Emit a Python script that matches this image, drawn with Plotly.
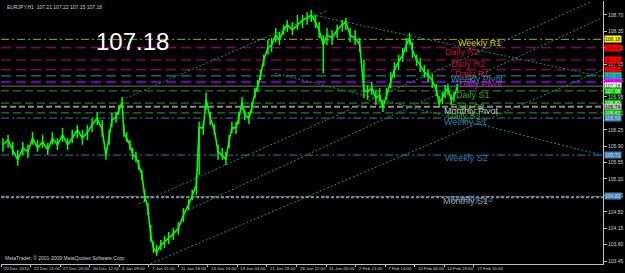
import plotly.graph_objects as go

# ---------------- data ----------------
bars = [0, 11, 21, 32, 43, 54, 64, 75, 86, 97, 107, 118, 129, 140, 150, 161, 172, 183, 193, 204,
        215, 223, 230, 236, 245, 251, 258, 262, 268, 275, 281, 288, 294, 301, 307, 314, 320, 326, 333,
        342, 350, 359, 369, 380, 391, 402, 410, 419, 425, 434, 440, 449, 458, 466, 475, 483, 490, 496,
        505, 511, 518, 524, 533, 539, 546, 552, 558, 565, 574, 582, 591, 599, 608, 616, 627, 638, 649,
        659, 668, 677, 685, 694, 702, 713, 724, 735, 743, 752, 763, 773, 782, 790, 799, 808, 816, 823,
        831, 840, 848, 857, 866, 874, 881, 887, 896, 904, 913, 921, 930, 939, 945, 952, 958, 964, 971,
        977, 984]
close = [105.93, 106.03, 105.82, 105.61, 105.86, 105.78, 106.07, 105.86, 105.99, 105.82, 106.07, 105.93,
         106.14, 105.93, 106.07, 106.25, 106.07, 106.20, 106.35, 106.50, 106.25, 105.71, 106.10, 106.46,
         106.52, 106.67, 106.84, 106.18, 106.07, 105.93, 105.71, 105.67, 105.50, 105.29, 104.84, 104.58,
         104.01, 103.73, 103.64, 103.79, 103.86, 103.94, 104.03, 104.15, 104.43, 104.65, 104.86, 105.07,
         106.29, 106.29, 106.89, 106.50, 106.25, 105.78, 105.71, 105.61, 106.03, 106.29, 106.29, 106.50,
         106.84, 106.57, 106.50, 106.72, 107.04, 107.18, 107.42, 107.74, 107.998, 108.06, 108.27, 108.17,
         108.38, 108.49, 108.38, 108.49, 108.59, 108.64, 108.70, 108.55, 108.38, 108.06, 108.27, 108.21,
         108.38, 108.49, 108.55, 108.27, 108.21, 108.06, 107.10, 107.06, 107.14, 106.93, 106.99, 106.72,
         106.99, 107.31, 107.53, 107.70, 107.85, 108.06, 108.21, 107.95, 107.74, 107.63, 107.48, 107.42,
         107.31, 107.10, 106.82, 106.93, 107.06, 107.14, 106.89, 106.95, 107.16]
high = [106.07, 106.14, 105.99, 105.82, 105.99, 105.93, 106.20, 106.03, 106.14, 105.97, 106.20, 106.07,
        106.29, 106.07, 106.25, 106.35, 106.25, 106.35, 106.50, 106.63, 106.46, 105.86, 106.25, 106.61,
        106.63, 106.78, 106.95, 106.35, 106.20, 106.03, 105.86, 105.78, 105.61, 105.39, 104.97, 104.69,
        104.22, 103.86, 103.79, 103.90, 103.98, 104.07, 104.15, 104.28, 104.58, 104.77, 104.97, 105.29,
        106.42, 106.42, 107.04, 106.63, 106.37, 105.93, 105.86, 105.78, 106.14, 106.42, 106.42, 106.63,
        106.95, 106.67, 106.63, 106.84, 107.14, 107.31, 107.53, 107.85, 108.17, 108.21, 108.42, 108.34,
        108.49, 108.59, 108.55, 108.70, 108.70, 108.76, 108.81, 108.70, 108.55, 108.27, 108.42, 108.38,
        108.49, 108.59, 108.64, 108.42, 108.38, 108.21, 107.74, 107.21, 107.27, 107.10, 107.14, 106.89,
        107.14, 107.48, 107.70, 107.85, 108.00, 108.21, 108.32, 108.12, 107.85, 107.78, 107.63, 107.53,
        107.44, 107.23, 106.97, 107.06, 107.21, 107.23, 107.00, 107.06, 107.23]
low = [105.78, 105.86, 105.71, 105.48, 105.71, 105.65, 105.93, 105.78, 105.86, 105.71, 105.93, 105.82,
       105.99, 105.82, 105.97, 106.07, 105.93, 106.03, 106.20, 106.35, 106.10, 105.61, 105.93, 106.31,
       106.40, 106.57, 106.72, 106.10, 105.99, 105.82, 105.61, 105.56, 105.39, 105.18, 104.71, 104.43,
       103.86, 103.62, 103.56, 103.68, 103.73, 103.81, 103.90, 104.01, 104.28, 104.54, 104.75, 104.86,
       105.29, 106.14, 106.67, 106.35, 106.14, 105.61, 105.61, 105.50, 105.86, 106.18, 106.16, 106.37,
       106.67, 106.46, 106.37, 106.61, 106.93, 107.06, 107.31, 107.61, 107.85, 107.91, 108.12, 108.06,
       108.27, 108.34, 108.27, 108.38, 108.42, 108.49, 108.55, 108.42, 108.21, 107.46, 108.06, 108.06,
       108.21, 108.34, 108.38, 108.12, 108.06, 107.91, 106.93, 106.89, 106.99, 106.78, 106.84, 106.63,
       106.89, 107.14, 107.36, 107.53, 107.70, 107.91, 108.06, 107.78, 107.61, 107.48, 107.36, 107.27,
       107.14, 106.97, 106.72, 106.80, 106.93, 106.99, 106.78, 106.84, 107.06]

# pivot levels (price) and names
level_names = ["Weekly R1", "Daily R3", "Daily R2", "Daily R1", "Weekly Pivot", "Daily Pivot",
               "Daily S1", "Daily S2", "Monthly Pivot", "Daily S3", "Weekly S1", "Weekly S2",
               "Weekly S3", "Monthly S1"]
level_prices = [108.18, 108.00, 107.74, 107.53, 107.40, 107.27, 107.08, 106.82, 106.74, 106.61,
                106.50, 105.71, 104.83, 104.81]
level_colors = ["#a8a800", "#c0007a", "#c0007a", "#c0007a", "#1aa0a8", "#7000b0", "#2e9a2e",
                "#2e9a2e", "#8c8c8c", "#2e9a2e", "#3f78a8", "#3f78a8", "#3f78a8", "#8c8c8c"]
level_text_colors = ["#d8d800", "#c8103c", "#c8103c", "#c8103c", "#2a90b0", "#c020c0", "#3ca03c",
                     "#3ca03c", "#c8c8c8", "#3ca03c", "#3a78b0", "#3a78b0", "#3a78b0", "#a0a0a0"]
level_dash = ["8px,3px,2px,3px", "10px,5px", "10px,5px", "10px,5px", "10px,5px", "10px,5px",
              "8px,4px", "8px,4px", "6px,3px", "8px,4px", "8px,3px,2px,3px", "8px,3px,2px,3px",
              "8px,3px,2px,3px", "3px,2px"]
level_width = [1, 1, 1, 1, 1, 2, 1, 1, 2, 1, 1, 1, 1, 2]
label_bars = [1033, 995, 1007, 1016, 1027, 1035, 1018, 1007, 1014, 999, 1001, 1005, 1014, 1001]
label_offsets = [-4, -4, -4, -4, -3, -2, -4, -4, -4, -3, -4, -3, -3, -4]

current_price = 107.18

# trend / channel lines (bar, price endpoints)
trend_lines = [
    ([258, 702], [106.89, 108.79]),
    ([294, 1274], [104.67, 108.98]),
    ([402, 1298], [104.54, 108.64]),
    ([320, 1300], [103.39, 107.53]),
    ([671, 1300], [108.70, 107.38]),
    ([589, 1298], [107.46, 105.71]),
]

tick_bars = [-4, 60, 124, 188, 252, 316, 380, 444, 508, 572, 636, 700, 764, 828, 892, 956, 1020]
tick_text = ["20 Dec 2010", "22 Dec 21:00", "27 Dec 20:00", "30 Dec 12:00", "4 Jan 09:00",
             "7 Jan 01:00", "11 Jan 18:00", "14 Jan 10:00", "19 Jan 03:00", "21 Jan 19:00",
             "26 Jan 12:00", "31 Jan 05:00", "2 Feb 21:00", "7 Feb 14:00", "10 Feb 06:00",
             "14 Feb 23:00", "17 Feb 15:00"]
y_ticks = [103.45, 103.80, 104.15, 104.50, 104.85, 105.20, 105.55, 105.90, 106.25, 106.60,
           106.95, 107.30, 107.65, 108.00, 108.35, 108.70]

box_prices = [108.18, 108.00, 107.74, 107.53, 107.40, 107.27, 107.18, 107.08, 106.82, 106.74,
              106.61, 106.50, 105.71, 104.83]
box_colors = ["#ffff00", "#ff0000", "#ff0000", "#ff0000", "#00c8c8", "#ff00ff", "#ffffff", "#00c000",
              "#00c000", "#c0c0c0", "#00c000", "#4682b4", "#4682b4", "#4682b4"]
box_font = ["#000000", "#800000", "#800000", "#800000", "#006060", "#800080", "#000000", "#ffffff",
            "#ffffff", "#000000", "#ffffff", "#c0d8f0", "#c0d8f0", "#c0d8f0"]

XMIN, XMAX = -4.3, 1300
YMIN, YMAX = 103.386, 108.998
FONT = "Arial, Liberation Sans, sans-serif"

fig = go.Figure()

# horizontal levels
for p, c, d, w in zip(level_prices, level_colors, level_dash, level_width):
    fig.add_trace(go.Scatter(x=[XMIN, XMAX], y=[p, p], mode="lines",
                             line=dict(color=c, width=w, dash=d), hoverinfo="skip"))
# current price line
fig.add_trace(go.Scatter(x=[XMIN, XMAX], y=[current_price, current_price], mode="lines",
                         line=dict(color="#707070", width=1), hoverinfo="skip"))

# trend lines
for xs, ys in trend_lines:
    fig.add_trace(go.Scatter(x=xs, y=ys, mode="lines",
                             line=dict(color="#119a6a", width=1, dash="2px,2px"), hoverinfo="skip"))

# price
fig.add_trace(go.Scatter(
    x=bars, y=close, mode="lines", line=dict(color="#00ff00", width=1.6),
    error_y=dict(type="data", symmetric=False,
                 array=[h - c for h, c in zip(high, close)],
                 arrayminus=[c - l for c, l in zip(close, low)],
                 color="#00ff00", thickness=1.5, width=0),
    hoverinfo="skip"))

# level labels
for name, p, tc, b, off in zip(level_names, level_prices, level_text_colors, label_bars, label_offsets):
    fig.add_annotation(x=b, y=p, text=name, showarrow=False, xanchor="center", yanchor="middle",
                       yshift=off, font=dict(family=FONT, size=9, color=tc))

# price boxes on right axis
for p, bc, fc in zip(box_prices, box_colors, box_font):
    fig.add_annotation(x=1, xref="paper", y=p, text=f"{p:.2f}", showarrow=False, xanchor="left",
                       yanchor="middle", xshift=1, bgcolor=bc, borderpad=0,
                       font=dict(family=FONT, size=5, color=fc))

# x tick labels (left-aligned after tick)
for b, t in zip(tick_bars, tick_text):
    fig.add_annotation(x=b, y=0, yref="paper", text=t, showarrow=False, xanchor="left",
                       yanchor="top", xshift=1, yshift=0,
                       font=dict(family=FONT, size=4.4, color="#d0d0d0"))

# big price label & titles
fig.add_annotation(x=0.155, y=0.845, xref="paper", yref="paper", text="107.18", showarrow=False,
                   xanchor="left", yanchor="middle",
                   font=dict(family=FONT, size=24, color="#ffffff"))
fig.add_annotation(x=0.006, y=0.997, xref="paper", yref="paper",
                   text="EURJPY,H1  107.21 107.22 107.15 107.18", showarrow=False,
                   xanchor="left", yanchor="top",
                   font=dict(family=FONT, size=5, color="#d0d0d0"))
fig.add_annotation(x=0.004, y=0.004, xref="paper", yref="paper",
                   text="MetaTrader, © 2001-2009 MetaQuotes Software Corp.", showarrow=False,
                   xanchor="left", yanchor="bottom",
                   font=dict(family=FONT, size=5, color="#d0d0d0"))

fig.update_layout(
    width=625, height=273, margin=dict(l=1, r=17, t=1, b=9),
    paper_bgcolor="#000000", plot_bgcolor="#000000", showlegend=False,
    xaxis=dict(range=[XMIN, XMAX], tickvals=tick_bars, ticktext=[""] * len(tick_bars),
               ticks="outside", ticklen=2, tickcolor="#c0c0c0", showgrid=False, zeroline=False,
               showline=True, linecolor="#c0c0c0", linewidth=1, mirror=False),
    yaxis=dict(range=[YMIN, YMAX], side="right", tickvals=y_ticks,
               ticktext=[f"{v:.2f}" for v in y_ticks], ticks="outside", ticklen=3,
               tickcolor="#c0c0c0", showgrid=False, zeroline=False, showline=True,
               linecolor="#c0c0c0", linewidth=1,
               tickfont=dict(family=FONT, size=5, color="#d0d0d0")),
)
fig.write_html("out.html")
